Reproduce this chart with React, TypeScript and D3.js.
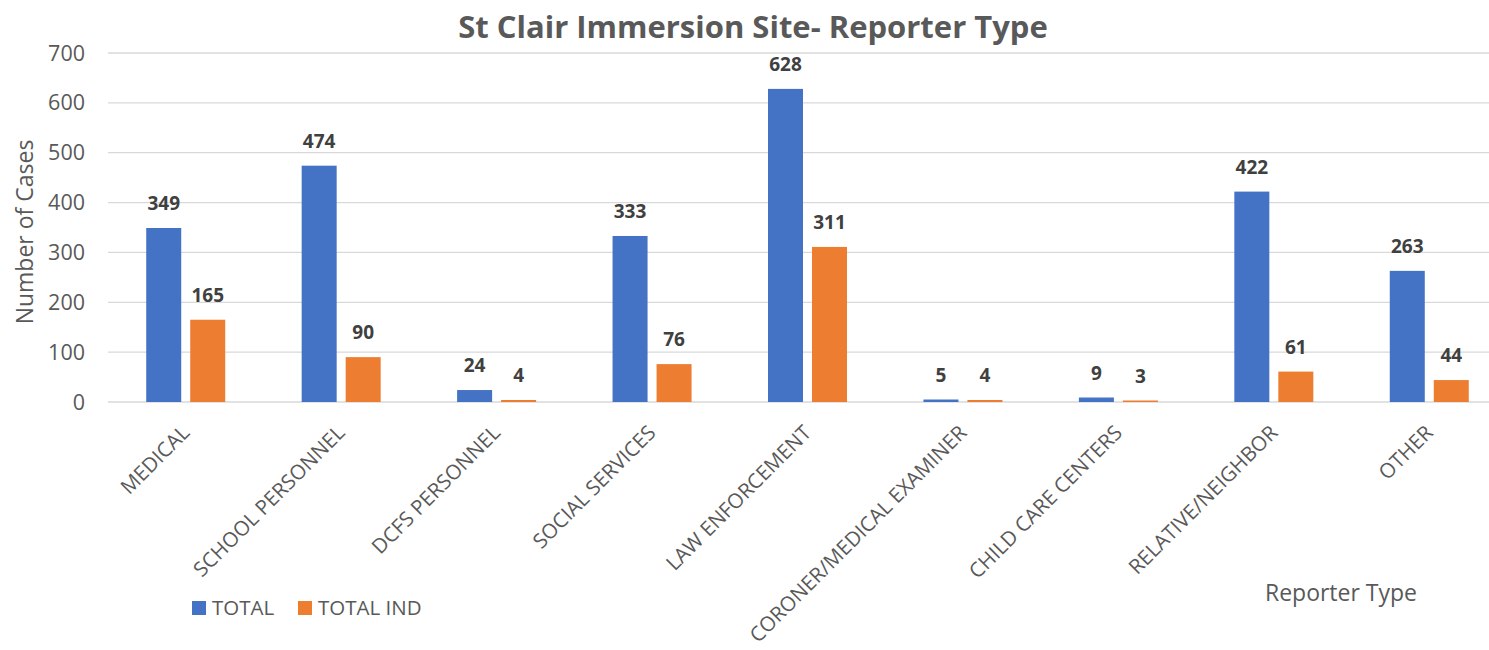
import { useEffect, useRef } from 'react';
import * as d3 from 'd3';

const CATEGORIES = [
  'MEDICAL',
  'SCHOOL PERSONNEL',
  'DCFS PERSONNEL',
  'SOCIAL SERVICES',
  'LAW ENFORCEMENT',
  'CORONER/MEDICAL EXAMINER',
  'CHILD CARE CENTERS',
  'RELATIVE/NEIGHBOR',
  'OTHER',
];
const TOTAL = [349, 474, 24, 333, 628, 5, 9, 422, 263];
const TOTAL_IND = [165, 90, 4, 76, 311, 4, 3, 61, 44];
const SERIES = ['TOTAL', 'TOTAL IND'];
const COLORS = ['#4472C4', '#ED7D31'];
const Y_TICKS = [0, 100, 200, 300, 400, 500, 600, 700];

const FONT = "'Open Sans', sans-serif";

export default function App() {
  const svgRef = useRef<SVGSVGElement>(null);

  useEffect(() => {
    const el = svgRef.current;
    if (!el) return;
    const svg = d3.select(el);
    svg.selectAll('*').remove();

    const W = 1489;
    const H = 650;
    svg.attr('width', W).attr('height', H);

    // plot continues past the right edge, as in the original crop
    const x0 = d3.scaleBand().domain(CATEGORIES).range([108, 1507]).padding(0);
    const groupW = 79;
    const x1 = d3.scaleBand().domain(SERIES).range([0, groupW]).paddingInner(9 / 44);
    const y = d3.scaleLinear().domain([0, 700]).range([402, 53]);

    // Grid lines
    svg.append('g')
      .selectAll('line')
      .data(Y_TICKS)
      .join('line')
      .attr('x1', 108).attr('x2', W)
      .attr('y1', (d) => y(d)).attr('y2', (d) => y(d))
      .attr('stroke', '#d9d9d9')
      .attr('stroke-width', 1.3);

    // Y tick labels
    svg.append('g')
      .selectAll('text')
      .data(Y_TICKS)
      .join('text')
      .attr('x', 85)
      .attr('y', (d) => y(d) + 7.5)
      .attr('text-anchor', 'end')
      .attr('font-family', FONT)
      .attr('font-size', '21.5px')
      .attr('fill', '#595959')
      .text((d) => d);

    const rows = CATEGORIES.map((c, i) => ({ cat: c, vals: [TOTAL[i], TOTAL_IND[i]] }));
    const offset = (x0.bandwidth() - groupW) / 2;

    const groups = svg.append('g')
      .selectAll('g')
      .data(rows)
      .join('g')
      .attr('transform', (d) => `translate(${(x0(d.cat) || 0) + offset},0)`);

    groups.selectAll('rect')
      .data((d) => d.vals.map((v, j) => ({ s: SERIES[j], v, j })))
      .join('rect')
      .attr('x', (d) => x1(d.s) || 0)
      .attr('y', (d) => y(d.v))
      .attr('width', x1.bandwidth())
      .attr('height', (d) => y(0) - y(d.v))
      .attr('fill', (d) => COLORS[d.j]);

    groups.selectAll('text')
      .data((d) => d.vals.map((v, j) => ({ s: SERIES[j], v, j })))
      .join('text')
      .attr('x', (d) => (x1(d.s) || 0) + x1.bandwidth() / 2)
      .attr('y', (d) => y(d.v) - 18)
      .attr('text-anchor', 'middle')
      .attr('font-family', FONT)
      .attr('font-size', '19px')
      .attr('font-weight', 700)
      .attr('fill', '#404040')
      .text((d) => d.v);

    // X labels rotated
    svg.append('g')
      .selectAll('text')
      .data(CATEGORIES)
      .join('text')
      .attr('transform', (d) => `translate(${(x0(d) || 0) + x0.bandwidth() / 2 + 5},${434}) rotate(-45)`)
      .attr('text-anchor', 'end')
      .attr('font-family', FONT)
      .attr('font-size', '20.5px')
      .attr('fill', '#595959')
      .text((d) => d);

    // Title
    svg.append('text')
      .attr('x', 753)
      .attr('y', 38)
      .attr('text-anchor', 'middle')
      .attr('font-family', FONT)
      .attr('font-size', '31px')
      .attr('font-weight', 700)
      .attr('fill', '#595959')
      .text('St Clair Immersion Site- Reporter Type');

    // Axis titles
    svg.append('text')
      .attr('transform', `translate(33,232) rotate(-90)`)
      .attr('text-anchor', 'middle')
      .attr('font-family', FONT)
      .attr('font-size', '23px')
      .attr('fill', '#595959')
      .text('Number of Cases');

    svg.append('text')
      .attr('x', 1341)
      .attr('y', 601)
      .attr('text-anchor', 'middle')
      .attr('font-family', FONT)
      .attr('font-size', '23px')
      .attr('fill', '#595959')
      .text('Reporter Type');

    // Legend
    const legendX = [192, 298];
    const leg = svg.append('g')
      .selectAll('g')
      .data(SERIES)
      .join('g')
      .attr('transform', (_d, i) => `translate(${legendX[i]},601)`);
    leg.append('rect').attr('width', 14).attr('height', 14).attr('fill', (_d, i) => COLORS[i]);
    leg.append('text')
      .attr('x', 20)
      .attr('y', 14)
      .attr('font-family', FONT)
      .attr('font-size', '20.5px')
      .attr('fill', '#595959')
      .text((d) => d);
  }, []);

  return (
    <div style={{ position: 'absolute', left: 0, top: 0 }}>
      <svg ref={svgRef} style={{ display: 'block', background: '#fff' }} />
    </div>
  );
}
